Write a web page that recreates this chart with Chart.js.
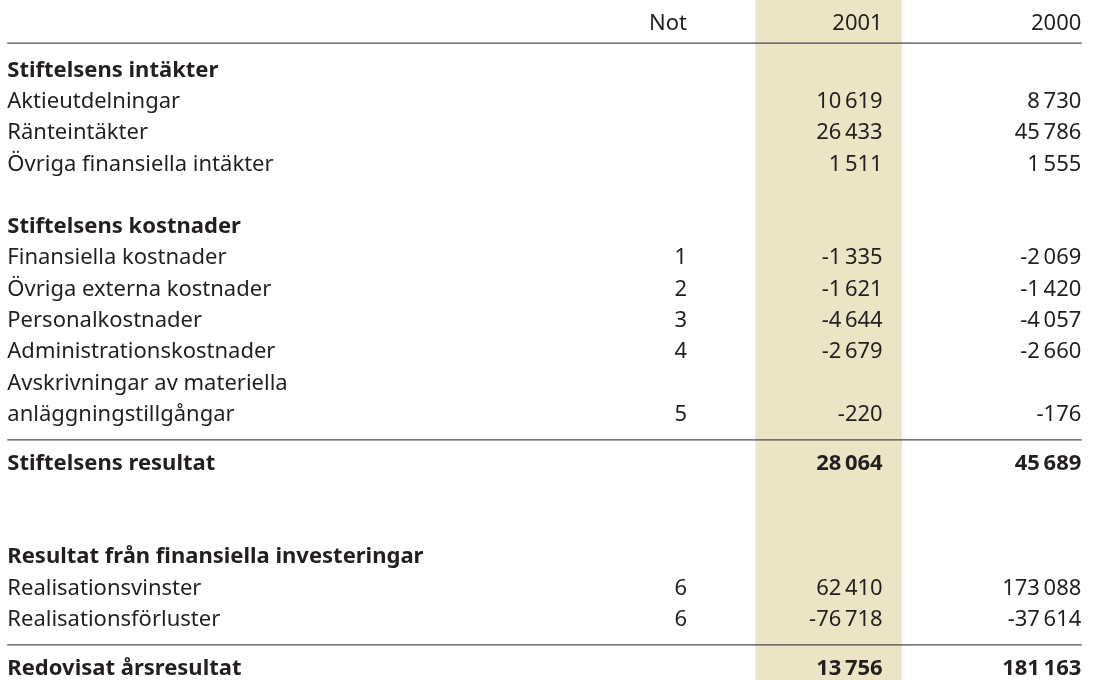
<!DOCTYPE html>
<html>
<head>
<meta charset="utf-8">
<script src="https://cdn.jsdelivr.net/npm/chart.js@4"></script>
<style>
  html, body { margin: 0; padding: 0; background: #ffffff; }
  #wrap { width: 1096px; height: 680px; position: relative; }
</style>
</head>
<body>
<div id="wrap"><canvas id="c"></canvas></div>
<script>
// ---- Data ----
const columnLabels = ['Not', '2001', '2000'];
const rowLabels = [
  'Stiftelsens intäkter',
  'Aktieutdelningar',
  'Ränteintäkter',
  'Övriga finansiella intäkter',
  '',
  'Stiftelsens kostnader',
  'Finansiella kostnader',
  'Övriga externa kostnader',
  'Personalkostnader',
  'Administrationskostnader',
  'Avskrivningar av materiella',
  'anläggningstillgångar',
  'Stiftelsens resultat',
  '',
  '',
  'Resultat från finansiella investeringar',
  'Realisationsvinster',
  'Realisationsförluster',
  'Redovisat årsresultat'
];
const rowTypes = [
  'section', 'item', 'item', 'item', 'blank',
  'section', 'item', 'item', 'item', 'item', 'item', 'item',
  'total', 'blank', 'blank',
  'section', 'item', 'item',
  'total'
];
const notes = [
  '', '', '', '', '',
  '', '1', '2', '3', '4', '', '5',
  '', '', '',
  '', '6', '6',
  ''
];
const values2001 = [
  null, 10619, 26433, 1511, null,
  null, -1335, -1621, -4644, -2679, null, -220,
  28064, null, null,
  null, 62410, -76718,
  13756
];
const values2000 = [
  null, 8730, 45786, 1555, null,
  null, -2069, -1420, -4057, -2660, null, -176,
  45689, null, null,
  null, 173088, -37614,
  181163
];

// ---- Layout / style constants ----
const L = {
  labelX: 7.3, noteRight: 687, col2001Right: 882.7, col2000Right: 1081.3,
  ruleLeft: 7.3, ruleRight: 1081.7,
  hlLeft: 755.7, hlRight: 901.7,
  headerU: -1.5, headerRuleU: -1.07,
  totalGap: 1.55, ruleAfter: 0.6,
  yMin: -2.4505, yMax: 19.275,
  font: '"Noto Sans", "Open Sans", sans-serif', size: 22,
  text: '#231f20', rule: '#4a4a4a', highlight: '#ebe5c6'
};

// row positions (in row units) derived from row types
function rowPositions() {
  const pos = [], rules = [L.headerRuleU];
  let u = 0;
  rowTypes.forEach((t, i) => {
    if (i > 0) {
      if (t === 'total') { rules.push(u + L.ruleAfter); u += L.totalGap; }
      else u += 1;
    }
    pos.push(u);
  });
  return { pos, rules };
}
const P = rowPositions();

function fmt(v) {
  const s = Math.abs(v).toString().replace(/\B(?=(\d{3})+(?!\d))/g, '\u2009');
  return (v < 0 ? '-' : '') + s;
}

const tablePlugin = {
  id: 'tablePlugin',
  afterDatasetsDraw(chart) {
    const { ctx, scales: { x, y } } = chart;
    ctx.save();
    // rules
    ctx.strokeStyle = L.rule;
    ctx.lineWidth = 1.3;
    P.rules.forEach(r => {
      const py = y.getPixelForValue(r);
      ctx.beginPath();
      ctx.moveTo(x.getPixelForValue(L.ruleLeft), py);
      ctx.lineTo(x.getPixelForValue(L.ruleRight), py);
      ctx.stroke();
    });
    ctx.fillStyle = L.text;
    ctx.textBaseline = 'alphabetic';
    // header
    ctx.font = `400 ${L.size}px ${L.font}`;
    ctx.textAlign = 'right';
    const hy = y.getPixelForValue(L.headerU);
    const rights = [L.noteRight, L.col2001Right, L.col2000Right];
    columnLabels.forEach((c, i) => ctx.fillText(c, x.getPixelForValue(rights[i]), hy));
    // rows
    rowLabels.forEach((lab, i) => {
      const t = rowTypes[i];
      const py = y.getPixelForValue(P.pos[i]);
      const bold = (t === 'section' || t === 'total');
      ctx.font = `${bold ? 700 : 400} ${L.size}px ${L.font}`;
      ctx.textAlign = 'left';
      if (lab) ctx.fillText(lab, x.getPixelForValue(L.labelX), py);
      ctx.textAlign = 'right';
      if (notes[i]) {
        ctx.font = `400 ${L.size}px ${L.font}`;
        ctx.fillText(notes[i], x.getPixelForValue(L.noteRight), py);
        ctx.font = `${bold ? 700 : 400} ${L.size}px ${L.font}`;
      }
      if (values2001[i] !== null) ctx.fillText(fmt(values2001[i]), x.getPixelForValue(L.col2001Right), py);
      if (values2000[i] !== null) ctx.fillText(fmt(values2000[i]), x.getPixelForValue(L.col2000Right), py);
    });
    ctx.restore();
  }
};

new Chart(document.getElementById('c'), {
  type: 'bar',
  data: {
    datasets: [{
      label: columnLabels[1],
      data: [{ x: (L.hlLeft + L.hlRight) / 2, y: [L.yMin, L.yMax] }],
      backgroundColor: L.highlight,
      borderWidth: 0,
      barThickness: L.hlRight - L.hlLeft
    }]
  },
  options: {
    responsive: true,
    maintainAspectRatio: false,
    animation: false,
    layout: { padding: 0 },
    plugins: { legend: { display: false }, tooltip: { enabled: false }, title: { display: false } },
    scales: {
      x: { type: 'linear', min: 0, max: 1096, display: false, offset: false },
      y: { type: 'linear', min: L.yMin, max: L.yMax, reverse: true, display: false }
    }
  },
  plugins: [tablePlugin]
});
</script>
</body>
</html>
